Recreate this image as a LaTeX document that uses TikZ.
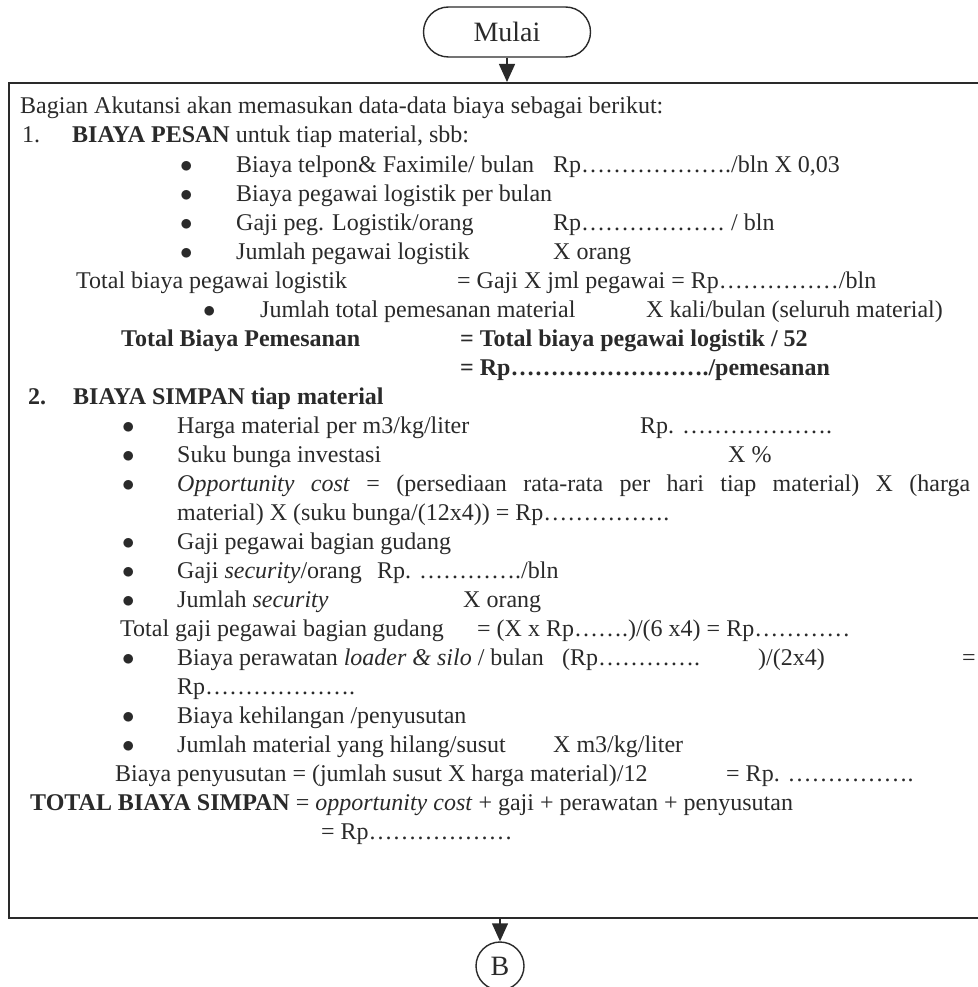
\documentclass[tikz,border=0pt]{standalone}
\usepackage{fontspec}
\setmainfont{Liberation Serif}
\usepackage{tikz}
\usetikzlibrary{arrows.meta, positioning, calc}
\definecolor{ink}{HTML}{2A2A2A}
\tikzset{every node/.append style={inner sep=0pt}}

\begin{document}
\begin{tikzpicture}[
    x=1pt, y=-1pt,
    font=\fontsize{24}{29}\selectfont, text=ink,
    txt/.style={anchor=base west},
    term/.style={rectangle, rounded corners=25pt, draw=ink, line width=1.4pt,
        minimum width=167pt, minimum height=50pt, font=\fontsize{28}{32}\selectfont},
    conn/.style={circle, draw=ink, line width=1.4pt, minimum size=48pt,
        font=\fontsize{28}{32}\selectfont},
    frame/.style={rectangle, draw=ink, line width=2pt,
        minimum width=976pt, minimum height=835pt},
    arr/.style={-{Triangle[length=18pt, width=16pt]}, line width=1.4pt, draw=ink, fill=ink}
]
\useasboundingbox (0,0) rectangle (977,987);

% ===== START + FRAME =====
\node[term] (mulai) at (507,32) {Mulai};
\node[frame] (box) at (497,500.5) {};
\draw[arr] (mulai) -- (mulai |- box.north);

% ===== BIAYA PESAN =====
\node[txt] (l1) at (20,114) {Bagian Akutansi akan memasukan data-data biaya sebagai berikut:};
\node[txt] (n1) at (22,143) {1.};
\node[txt] (l2) at (72,143) {\textbf{BIAYA PESAN} untuk tiap material, sbb:};
\node[txt] (b3) at (180,172) {$\bullet$};
\node[txt] (l3) at (236,172) {Biaya telpon\& Faximile/ bulan};
\node[txt] (v3) at (553,172) {Rp………………./bln X 0,03};
\node[txt] (b4) at (180,201) {$\bullet$};
\node[txt] (l4) at (236,201) {Biaya pegawai logistik per bulan};
\node[txt] (b5) at (180,230) {$\bullet$};
\node[txt] (l5) at (236,230) {Gaji peg. Logistik/orang};
\node[txt] (v5) at (553,230) {Rp……………… / bln};
\node[txt] (b6) at (180,259) {$\bullet$};
\node[txt] (l6) at (236,259) {Jumlah pegawai logistik};
\node[txt] (v6) at (553,259) {X orang};
\node[txt] (l7) at (76,288) {Total biaya pegawai logistik};
\node[txt] (v7) at (457,288) {= Gaji X jml pegawai = Rp……………/bln};
\node[txt] (b8) at (203,317) {$\bullet$};
\node[txt] (l8) at (260,317) {Jumlah total pemesanan material};
\node[txt] (v8) at (646,317) {X kali/bulan (seluruh material)};
\node[txt] (l9) at (121,346) {\textbf{Total Biaya Pemesanan}};
\node[txt] (v9) at (460,346) {\textbf{= Total biaya pegawai logistik / 52}};
\node[txt] (v10) at (460,375) {\textbf{= Rp……………………./pemesanan}};

% ===== BIAYA SIMPAN =====
\node[txt] (n2) at (28,404) {\textbf{2.}};
\node[txt] (l11) at (73,404) {\textbf{BIAYA SIMPAN tiap material}};
\node[txt] (b12) at (122,433) {$\bullet$};
\node[txt] (l12) at (177,433) {Harga material per m3/kg/liter};
\node[txt] (v12) at (640,433) {Rp. ……………….};
\node[txt] (b13) at (122,462) {$\bullet$};
\node[txt] (l13) at (177,462) {Suku bunga investasi};
\node[txt] (v13) at (728,462) {X \%};
\node[txt] (b14) at (122,491) {$\bullet$};
\node[txt] (l14) at (177,491) {\makebox[793pt][s]{\textit{Opportunity cost} = (persediaan rata-rata per hari tiap material) X (harga}};
\node[txt] (l15) at (177,520) {material) X (suku bunga/(12x4)) = Rp…………….};
\node[txt] (b16) at (122,549) {$\bullet$};
\node[txt] (l16) at (177,549) {Gaji pegawai bagian gudang};
\node[txt] (b17) at (122,578) {$\bullet$};
\node[txt] (l17) at (177,578) {Gaji \textit{security}/orang};
\node[txt] (v17) at (377,578) {Rp. …………./bln};
\node[txt] (b18) at (122,607) {$\bullet$};
\node[txt] (l18) at (177,607) {Jumlah \textit{security}};
\node[txt] (v18) at (463,607) {X orang};
\node[txt] (l19) at (120,636) {Total gaji pegawai bagian gudang};
\node[txt] (v19) at (477,636) {= (X x Rp…….)/(6 x4) = Rp…………};
\node[txt] (b20) at (122,665) {$\bullet$};
\node[txt] (l20) at (177,665) {Biaya perawatan \textit{loader \& silo} / bulan};
\node[txt] (v20) at (562,665) {(Rp………….};
\node[txt] (w20) at (758,665) {)/(2x4)};
\node[txt] (e20) at (962,665) {=};
\node[txt] (l21) at (177,694) {Rp……………….};
\node[txt] (b22) at (122,723) {$\bullet$};
\node[txt] (l22) at (177,723) {Biaya kehilangan /penyusutan};
\node[txt] (b23) at (122,752) {$\bullet$};
\node[txt] (l23) at (177,752) {Jumlah material yang hilang/susut};
\node[txt] (v23) at (553,752) {X m3/kg/liter};
\node[txt] (l24) at (115,781) {Biaya penyusutan = (jumlah susut X harga material)/12};
\node[txt] (v24) at (726,781) {= Rp. …………….};
\node[txt] (l25) at (30,810) {\textbf{TOTAL BIAYA SIMPAN} = \textit{opportunity cost} + gaji + perawatan + penyusutan};
\node[txt] (l26) at (321,839) {= Rp………………};

% ===== CONNECTOR B =====
\node[conn] (b) at (500,966) {B};
\draw[arr] (b |- box.south) -- (b);
\end{tikzpicture}
\end{document}
